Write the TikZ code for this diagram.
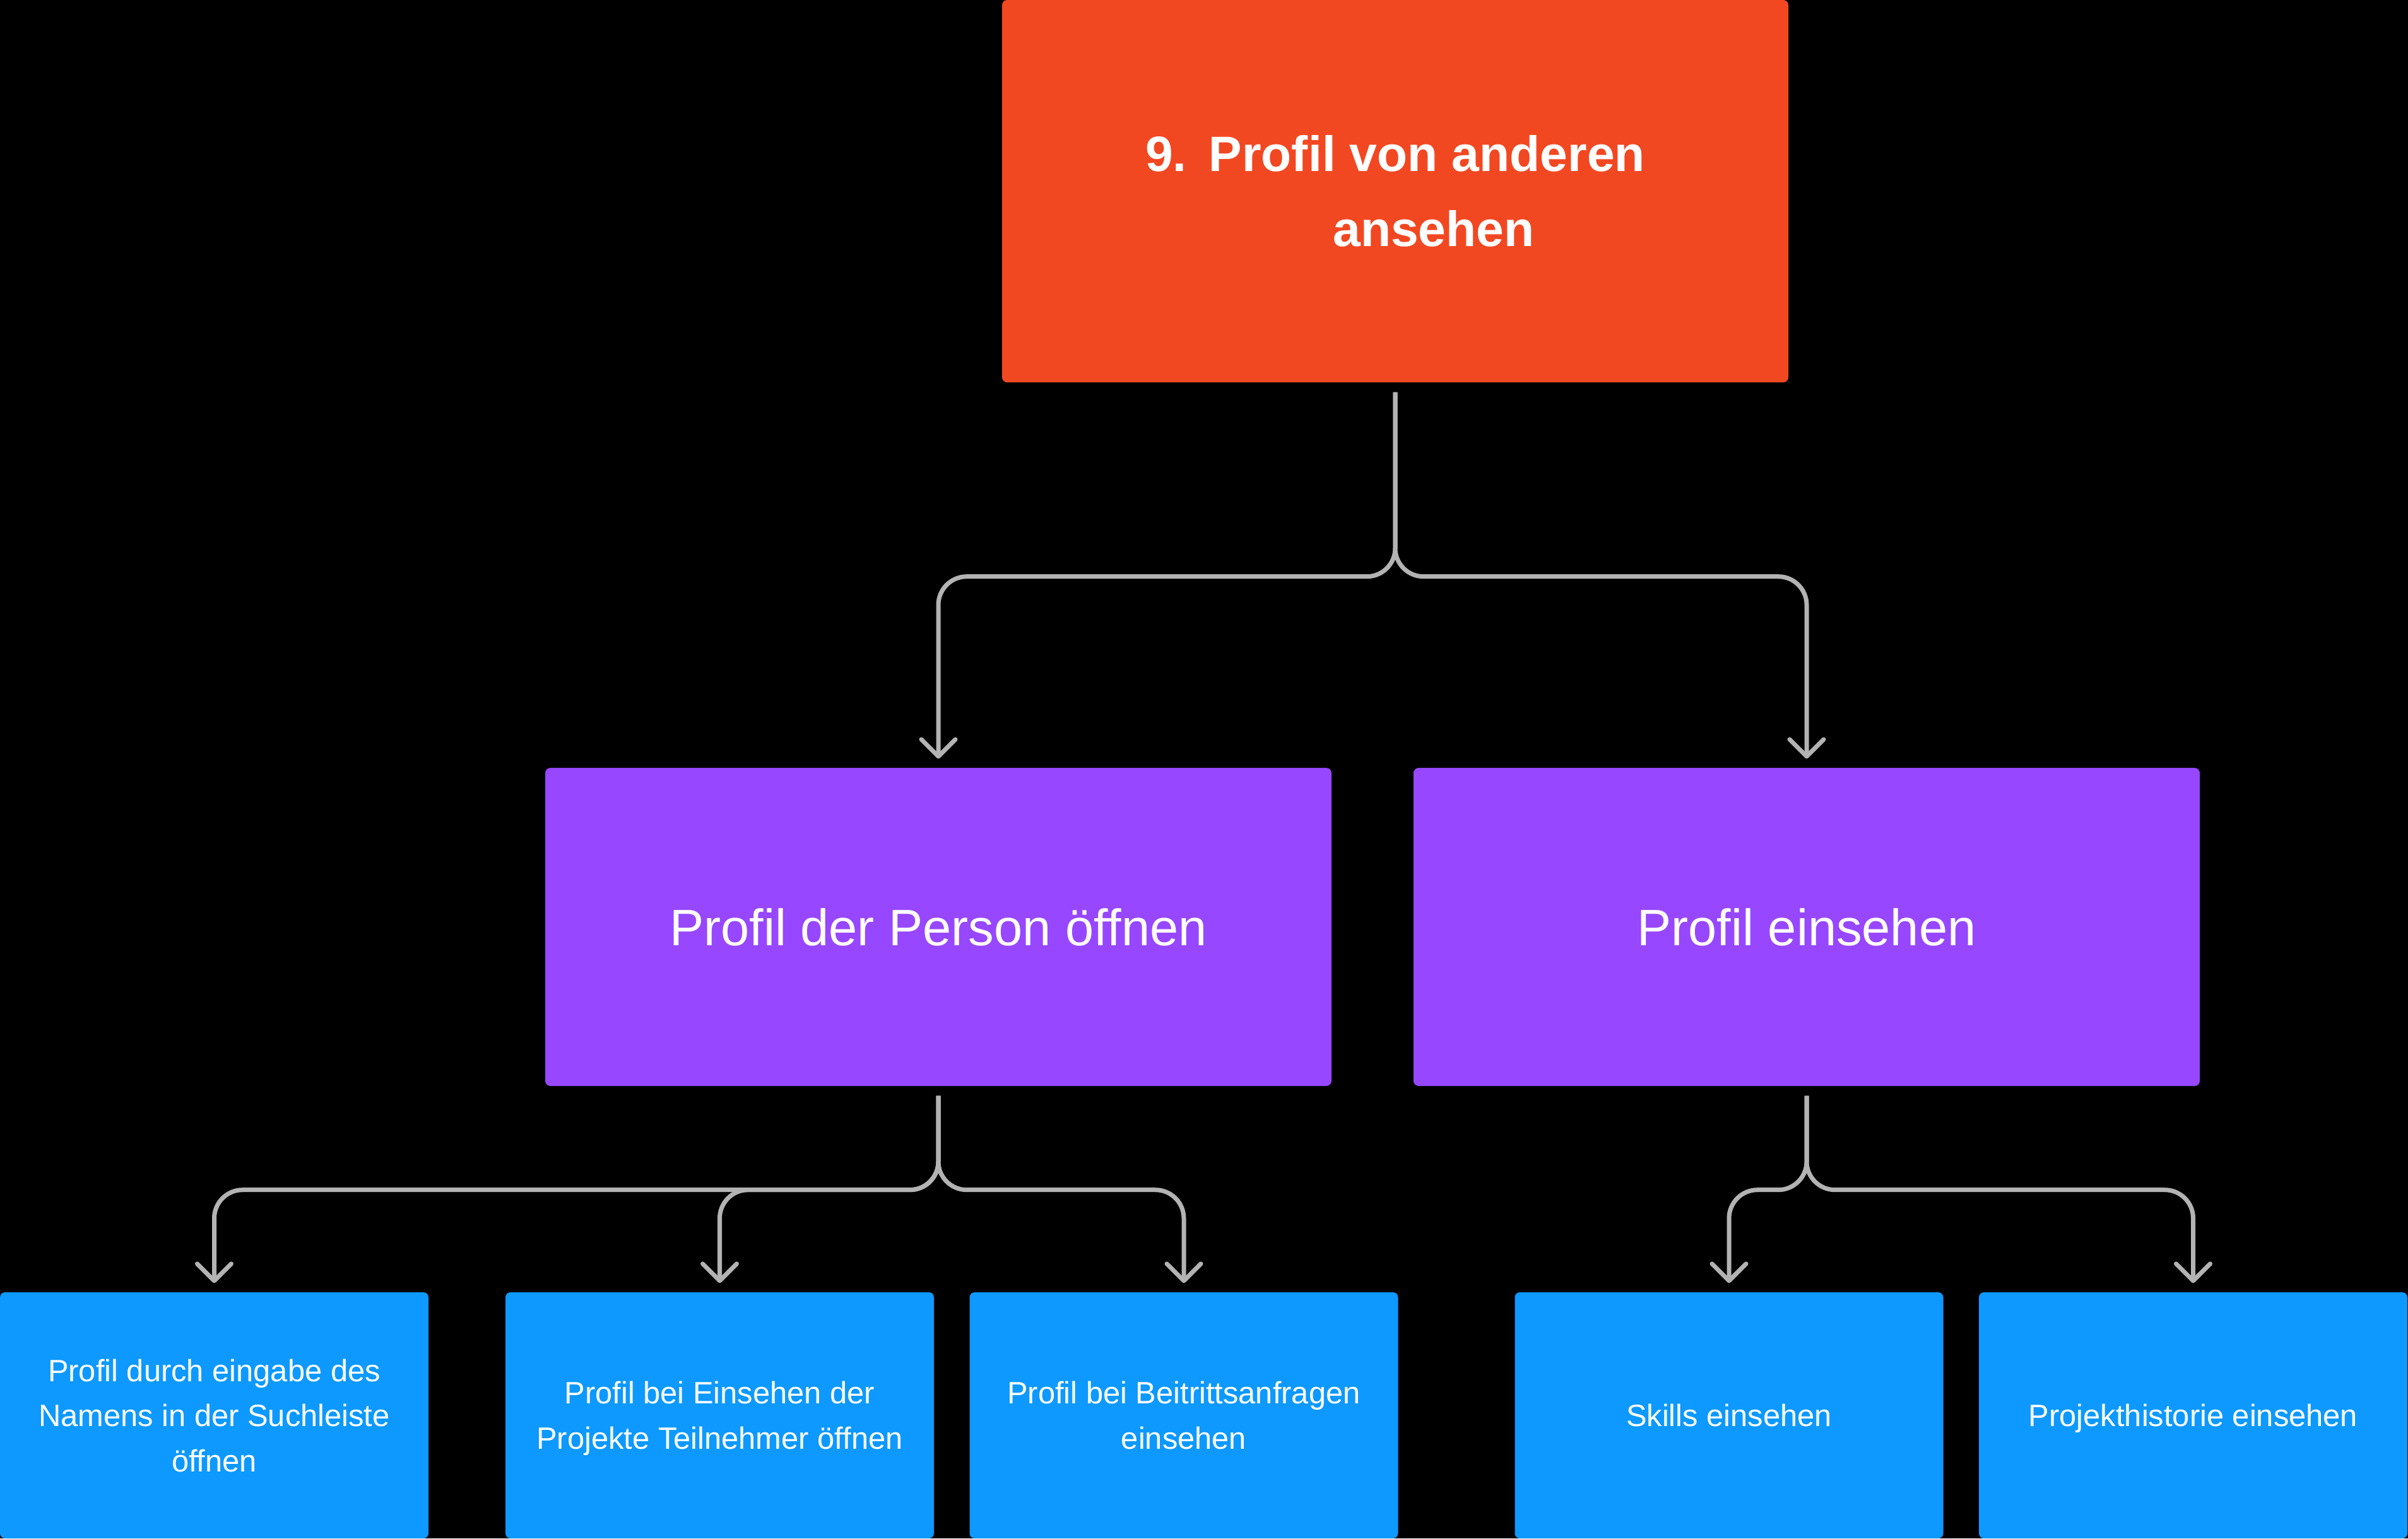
\documentclass[tikz,border=0pt]{standalone}
\usepackage{fontspec}
\setmainfont{Liberation Sans}
\usetikzlibrary{arrows.meta}
\definecolor{taskorange}{HTML}{F24822}
\definecolor{steppurple}{HTML}{9747FF}
\definecolor{subblue}{HTML}{0D99FF}
\definecolor{linkgray}{HTML}{B3B3B3}

\begin{document}
\begin{tikzpicture}
     [
     taskbox/.style={rectangle, rounded corners=0.08cm, fill=taskorange, text=white, align=center, minimum width=12.46cm, minimum height=6.06cm, font=\bfseries\fontsize{22.4pt}{33.9pt}\selectfont},
     stepbox/.style={rectangle, rounded corners=0.08cm, fill=steppurple, text=white, align=center, minimum width=12.46cm, minimum height=5.04cm, font=\fontsize{23.1pt}{28pt}\selectfont},
     subbox/.style={rectangle, rounded corners=0.08cm, fill=subblue, text=white, align=center, minimum width=6.79cm, minimum height=3.90cm, text depth=0pt, font=\fontsize{13.9pt}{20.4pt}\selectfont},
     link/.style={draw=linkgray, line width=0.07cm, rounded corners=0.45cm, shorten <=0.15cm, shorten >=0.14cm, -{Straight Barb[length=0.27cm, width=0.54cm, round]}},
     ]
 \fill[black] (0,0) rectangle (38.16,24.38);
 \useasboundingbox (0,0) rectangle (38.16,24.38);
 \node at (22.11,21.35) [taskbox] (task) {9.\hspace{0.35cm}Profil von anderen\\\hspace*{1.22cm}ansehen};
 \node at (14.87,9.69) [stepbox] (open) {Profil der Person öffnen};
 \node at (28.63,9.69) [stepbox] (view) {Profil einsehen};
 \node at (3.395,1.95) [subbox] (search) {Profil durch eingabe des\\Namens in der Suchleiste\\öffnen};
 \node at (11.405,1.95) [subbox] (members) {Profil bei Einsehen der\\Projekte Teilnehmer öffnen};
 \node at (18.76,1.95) [subbox] (requests) {Profil bei Beitrittsanfragen\\einsehen};
 \node at (27.40,1.95) [subbox] (skills) {Skills einsehen};
 \node at (34.755,1.95) [subbox] (history) {Projekthistorie einsehen};
 \draw[link] (task.south) -- ++(0,-3.07) -| (open.north);
 \draw[link] (task.south) -- ++(0,-3.07) -| (view.north);
 \draw[link] (open.south) -- ++(0,-1.64) -| (search.north);
 \draw[link] (open.south) -- ++(0,-1.64) -| (members.north);
 \draw[link] (open.south) -- ++(0,-1.64) -| (requests.north);
 \draw[link] (view.south) -- ++(0,-1.64) -| (skills.north);
 \draw[link] (view.south) -- ++(0,-1.64) -| (history.north);
 \end{tikzpicture}
\end{document}
